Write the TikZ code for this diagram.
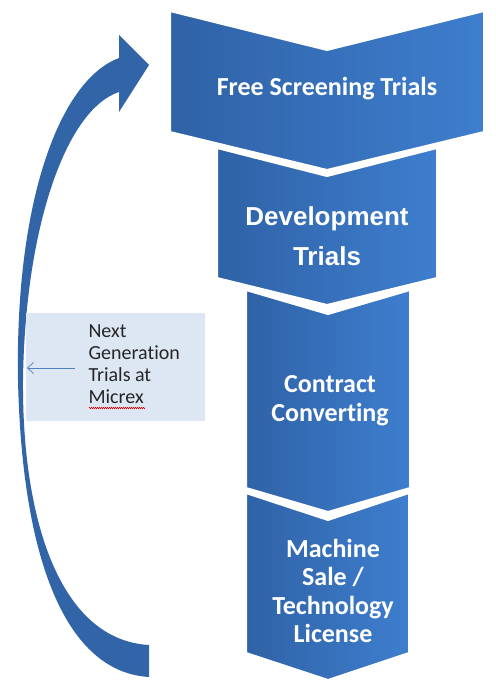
\documentclass[tikz,border=0pt]{standalone}
\usepackage{fontspec}
\setmainfont{Carlito}[Ligatures=NoCommon]
\newfontfamily\arialfont{Liberation Sans}
\usetikzlibrary{arrows.meta,decorations.pathmorphing}
\definecolor{chevL}{RGB}{47,98,166}
\definecolor{chevR}{RGB}{62,126,206}
\definecolor{arrowblue}{RGB}{50,100,168}
\definecolor{boxfill}{RGB}{221,231,243}
\definecolor{thinarrow}{RGB}{79,129,189}
\tikzset{
  chevron/.style={left color=chevL, right color=chevR, draw=white, line width=2pt, line join=miter},
  chevtext/.style={text=white, font=\bfseries, align=center},
  boxtext/.style={text=black!85, align=left, anchor=north west},
}
\begin{document}
\begin{tikzpicture}[x=1pt,y=-1pt]
\useasboundingbox (0,0) rectangle (495,693);
% curved return arrow
\fill[arrowblue] (149,677) .. controls (66,672) and (22,560) .. (18,380)
  .. controls (15,200) and (60,80) .. (119,58) -- (119,35) -- (149,65) -- (119,112) -- (119,92)
  .. controls (65,110) and (25,230) .. (23,380)
  .. controls (22,520) and (60,640) .. (149,645) -- cycle;
% text box
\fill[boxfill] (26,313) rectangle (205,421);
\node[boxtext, font=\fontsize{20}{22}\selectfont] (next) at (85,321) {Next\\Generation\\Trials at\\Micrex};
\coordinate (ta) at (75,368);
\coordinate (tb) at (27,368);
\draw[thinarrow, line width=0.7pt, -{Straight Barb[length=6pt,width=11pt,line width=0.7pt]}] (ta) -- (tb);
\draw[red!85!black, line width=0.5pt, decorate, decoration={zigzag, segment length=2pt, amplitude=0.7pt}] (89,408) -- (145,408);
% chevrons (drawn top to bottom)
\path[chevron] (170,11) -- (327,50) -- (484,11) -- (484,132) -- (327,170) -- (170,132) -- cycle;
\path[chevron] (217,148) -- (327,176) -- (437,148) -- (437,278) -- (327,305) -- (217,278) -- cycle;
\path[chevron] (246,290) -- (328,314) -- (410,290) -- (410,488) -- (328,512) -- (246,488) -- cycle;
\path[chevron] (246,493) -- (328,520) -- (409,493) -- (409,653) -- (328,680) -- (246,653) -- cycle;
% texts
\node[chevtext, font=\fontsize{26}{29}\selectfont\bfseries] (c1) at (327,89) {Free Screening Trials};
\node[chevtext, font=\fontsize{26}{40}\selectfont\arialfont\bfseries] (c2) at (327,236) {Development\\Trials};
\node[chevtext, font=\fontsize{26}{29}\selectfont\bfseries] (c3) at (330,401) {Contract\\Converting};
\node[chevtext, font=\fontsize{26}{28.5}\selectfont\bfseries] (c4) at (333,591) {Machine\\Sale /\\Technology\\License};
\end{tikzpicture}
\end{document}
